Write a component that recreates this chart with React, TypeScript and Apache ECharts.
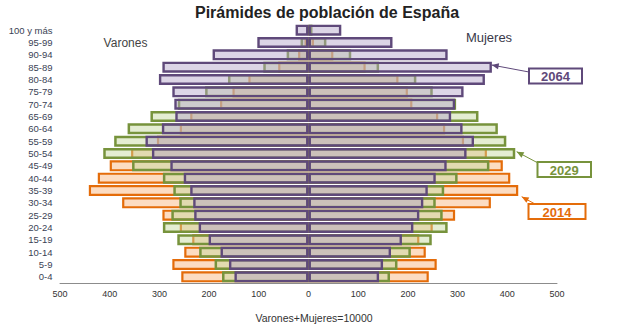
import React, { useEffect, useRef } from "react";
import * as echarts from "echarts";

const ageGroups = [
  "0-4", "5-9", "10-14", "15-19", "20-24", "25-29", "30-34", "35-39", "40-44", "45-49",
  "50-54", "55-59", "60-64", "65-69", "70-74", "75-79", "80-84", "85-89", "90-94", "95-99", "100 y más",
];

const varones2014 = [256, 274, 250, 234, 259, 294, 375, 442, 424, 400, 357, 305, 259, 238, 178, 153, 121, 61, 21, 8, 2];
const varones2029 = [174, 189, 220, 264, 293, 276, 260, 272, 293, 355, 413, 391, 364, 318, 263, 208, 162, 91, 44, 16, 4];
const varones2064 = [149, 160, 177, 201, 221, 230, 232, 238, 251, 278, 315, 328, 295, 268, 270, 274, 301, 294, 193, 103, 26];

const mujeres2014 = [242, 258, 236, 223, 250, 295, 367, 422, 406, 391, 359, 313, 275, 261, 209, 200, 181, 115, 50, 11, 4];
const mujeres2029 = [164, 179, 206, 248, 280, 270, 256, 273, 300, 364, 416, 398, 381, 342, 297, 250, 217, 142, 86, 36, 8];
const mujeres2064 = [142, 150, 166, 188, 211, 223, 231, 240, 256, 278, 318, 333, 310, 287, 295, 312, 355, 369, 280, 169, 66];

const xTicks = [-500, -400, -300, -200, -100, 0, 100, 200, 300, 400, 500];

const FONT = "'Liberation Sans', Arial, sans-serif";

const ORANGE = "#e46c0a";
const GREEN = "#77933c";
const PURPLE = "#5f497a";

const ORANGE_FILL = "rgba(250,192,144,0.55)";
const GREEN_FILL = "rgba(196,215,155,0.45)";
const PURPLE_FILL = "rgba(178,161,199,0.45)";

function barSeries(name: string, values: number[], sign: number, stroke: string, fill: string, bw: number) {
  return {
    name,
    type: "bar",
    data: values.map((v) => sign * v),
    barWidth: 11,
    barGap: "-100%",
    itemStyle: { color: fill, borderColor: stroke, borderWidth: bw },
    silent: true,
  };
}

function arrowHead(tipX: number, tipY: number, fromX: number, fromY: number, color: string) {
  const dx = fromX - tipX;
  const dy = fromY - tipY;
  const len = Math.sqrt(dx * dx + dy * dy);
  const ux = dx / len;
  const uy = dy / len;
  const bx = tipX + ux * 7;
  const by = tipY + uy * 7;
  const px = -uy * 3;
  const py = ux * 3;
  return {
    type: "polygon",
    shape: { points: [[tipX, tipY], [bx + px, by + py], [bx - px, by - py]] },
    style: { fill: color },
    silent: true,
  };
}

function legendBox(label: string, x: number, y: number, w: number, h: number, color: string, tip: number[], from: number[]) {
  return [
    {
      type: "line",
      shape: { x1: from[0], y1: from[1], x2: tip[0], y2: tip[1] },
      style: { stroke: color, lineWidth: 1 },
      silent: true,
    },
    arrowHead(tip[0], tip[1], from[0], from[1], color),
    {
      type: "rect",
      shape: { x, y, width: w, height: h },
      style: { fill: "#ffffff", stroke: color, lineWidth: 2 },
      silent: true,
    },
    {
      type: "text",
      x: x + w / 2,
      y: y + h / 2 + 0.5,
      style: {
        text: label,
        fill: color,
        font: `bold 13px ${FONT}`,
        align: "center",
        verticalAlign: "middle",
        textAlign: "center",
        textVerticalAlign: "middle",
      },
      silent: true,
    },
  ];
}

export default function App() {
  const ref = useRef<HTMLDivElement>(null);

  useEffect(() => {
    if (!ref.current) return;
    const chart = echarts.init(ref.current, undefined, { renderer: "svg" });
    chart.setOption({
      animation: false,
      textStyle: { fontFamily: FONT },
      grid: { left: 60, right: 77, top: 24, bottom: 42, containLabel: false },
      xAxis: {
        type: "value",
        min: xTicks[0],
        max: xTicks[xTicks.length - 1],
        interval: 100,
        axisLine: { show: true, lineStyle: { color: "#8c8c8c", width: 1 } },
        axisTick: { show: false },
        splitLine: { show: false },
        axisLabel: {
          fontSize: 9,
          color: "#333333",
          margin: 6,
          fontFamily: FONT,
          formatter: (v: number) => String(Math.abs(v)),
        },
      },
      yAxis: {
        type: "category",
        data: ageGroups,
        axisLine: { show: false },
        axisTick: { show: false },
        splitLine: { show: false },
        axisLabel: { interval: 0, fontSize: 9.5, color: "#3a3f55", margin: 7.5, fontFamily: FONT },
      },
      series: [
        barSeries("Varones 2014", varones2014, -1, ORANGE, ORANGE_FILL, 2.2),
        barSeries("Mujeres 2014", mujeres2014, 1, ORANGE, ORANGE_FILL, 2.2),
        barSeries("Varones 2029", varones2029, -1, GREEN, GREEN_FILL, 2.5),
        barSeries("Mujeres 2029", mujeres2029, 1, GREEN, GREEN_FILL, 2.5),
        barSeries("Varones 2064", varones2064, -1, PURPLE, PURPLE_FILL, 2.4),
        barSeries("Mujeres 2064", mujeres2064, 1, PURPLE, PURPLE_FILL, 2.4),
      ],
      graphic: [
        {
          type: "text",
          x: 327,
          y: 12.5,
          style: {
            text: "Pirámides de población de España",
            fill: "#222222",
            font: `bold 16px ${FONT}`,
            align: "center",
            verticalAlign: "middle",
            textAlign: "center",
            textVerticalAlign: "middle",
          },
          silent: true,
        },
        {
          type: "text",
          x: 125.5,
          y: 42.5,
          style: {
            text: "Varones",
            fill: "#444444",
            font: `12px ${FONT}`,
            align: "center",
            verticalAlign: "middle",
            textAlign: "center",
            textVerticalAlign: "middle",
          },
          silent: true,
        },
        {
          type: "text",
          x: 489,
          y: 37.5,
          style: {
            text: "Mujeres",
            fill: "#3a3a4a",
            font: `13px ${FONT}`,
            align: "center",
            verticalAlign: "middle",
            textAlign: "center",
            textVerticalAlign: "middle",
          },
          silent: true,
        },
        {
          type: "text",
          x: 314,
          y: 318,
          style: {
            text: "Varones+Mujeres=10000",
            fill: "#333333",
            font: `10.5px ${FONT}`,
            align: "center",
            verticalAlign: "middle",
            textAlign: "center",
            textVerticalAlign: "middle",
          },
          silent: true,
        },
        ...legendBox("2064", 529, 68.5, 53, 15, PURPLE, [491.7, 65], [529, 72]),
        ...legendBox("2029", 537.5, 162, 53.5, 15, GREEN, [516.7, 151.7], [538, 163]),
        ...legendBox("2014", 528.5, 204, 57, 15, ORANGE, [521.7, 196.7], [535, 204]),
      ],
    });
    return () => chart.dispose();
  }, []);

  return (
    <div
      ref={ref}
      style={{ position: "fixed", left: 0, top: 0, width: 634, height: 325, background: "#ffffff" }}
    />
  );
}
